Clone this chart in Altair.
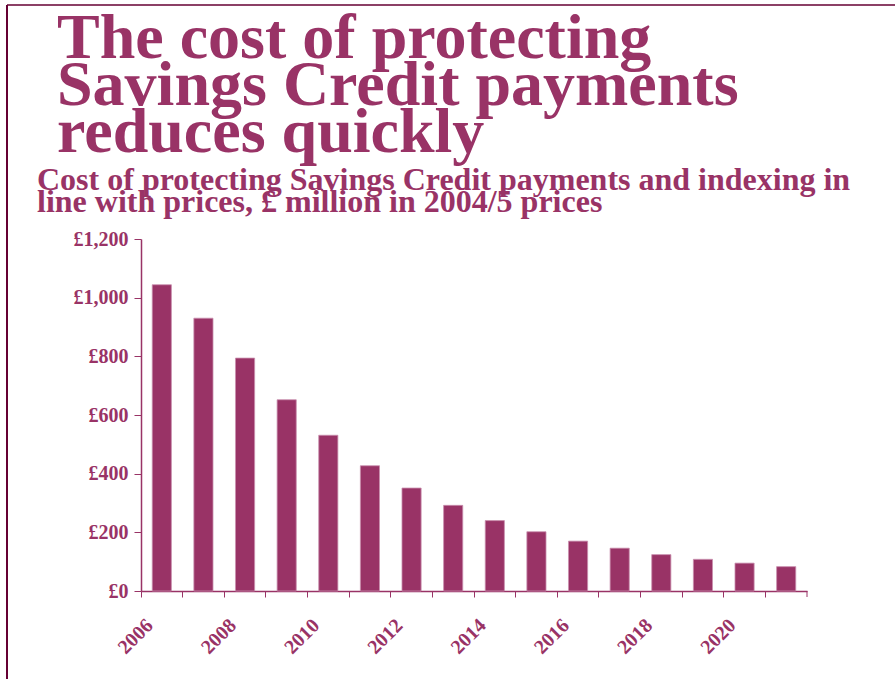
import altair as alt
import pandas as pd

years = [2006, 2007, 2008, 2009, 2010, 2011, 2012, 2013, 2014, 2015, 2016, 2017, 2018, 2019, 2020, 2021]
costs = [1044, 930, 794, 652, 531, 427, 351, 292, 240, 202, 170, 146, 124, 108, 95, 83]
y_ticks = [0, 200, 400, 600, 800, 1000, 1200]

title_lines = ["The cost of protecting", "Savings Credit payments", "reduces quickly"]
subtitle_lines = ["Cost of protecting Savings Credit payments and indexing in",
                  "line with prices, £ million in 2004/5 prices"]

PURPLE = "#993366"
FRAME = "#660033"
FONT = "Liberation Serif"

df = pd.DataFrame({"year": years, "cost": costs})

W, H = 666, 352

bars = alt.Chart(df).mark_bar(
    color=PURPLE, stroke="#c98fae", strokeWidth=0.8,
    width=alt.RelativeBandSize(0.46)
).encode(
    x=alt.X("year:O",
            scale=alt.Scale(paddingInner=0, paddingOuter=0),
            axis=alt.Axis(title=None, bandPosition=0, labelAngle=-45,
                          labelAlign="right", labelBaseline="middle",
                          labelPadding=25, labelOffset=-12,
                          labelExpr="datum.value % 2 == 0 ? datum.label : ''",
                          tickSize=6, domainColor=PURPLE, tickColor=PURPLE,
                          domainWidth=1.5, labelFontSize=20)),
    y=alt.Y("cost:Q",
            scale=alt.Scale(domain=[0, 1200], nice=False),
            axis=alt.Axis(title=None, values=y_ticks, tickSize=7,
                          labelPadding=6,
                          labelExpr="'£' + format(datum.value, ',')",
                          domainColor=PURPLE, tickColor=PURPLE,
                          domainWidth=1.5, labelFontSize=20, grid=False)),
)

end_tick = alt.Chart(pd.DataFrame({"a": [0]})).mark_rule(color=PURPLE, strokeWidth=1).encode(
    x=alt.value(W), y=alt.value(H), y2=alt.value(H + 6)
)

frame_top = alt.Chart(pd.DataFrame({"a": [0]})).mark_rule(color=FRAME, strokeWidth=1.5).encode(
    x=alt.value(-134), x2=alt.value(W + 90), y=alt.value(-234)
)
frame_left = alt.Chart(pd.DataFrame({"a": [0]})).mark_rule(color=FRAME, strokeWidth=2).encode(
    x=alt.value(-134), y=alt.value(-234), y2=alt.value(H + 90)
)

title = alt.Chart(pd.DataFrame({"t": ["\n".join(title_lines)]})).mark_text(
    font=FONT, fontWeight="bold", fontSize=64, color=PURPLE,
    align="left", baseline="alphabetic", lineBreak="\n", lineHeight=47
).encode(text="t:N", x=alt.value(-84), y=alt.value(-181))

subtitle = alt.Chart(pd.DataFrame({"t": ["\n".join(subtitle_lines)]})).mark_text(
    font=FONT, fontWeight="bold", fontSize=32, color=PURPLE,
    align="left", baseline="alphabetic", lineBreak="\n", lineHeight=22
).encode(text="t:N", x=alt.value(-104), y=alt.value(-49))

chart = alt.layer(frame_top, frame_left, title, subtitle, bars, end_tick).properties(
    width=W, height=H,
    autosize=alt.AutoSizeParams(type="none"),
    padding={"left": 141, "top": 239, "right": 88, "bottom": 88},
    background="white",
).configure_view(stroke=None).configure_axis(
    labelFont=FONT, labelFontWeight="bold", labelColor=PURPLE
)

chart.save("out.html", embed_options={"renderer": "svg", "actions": False})
